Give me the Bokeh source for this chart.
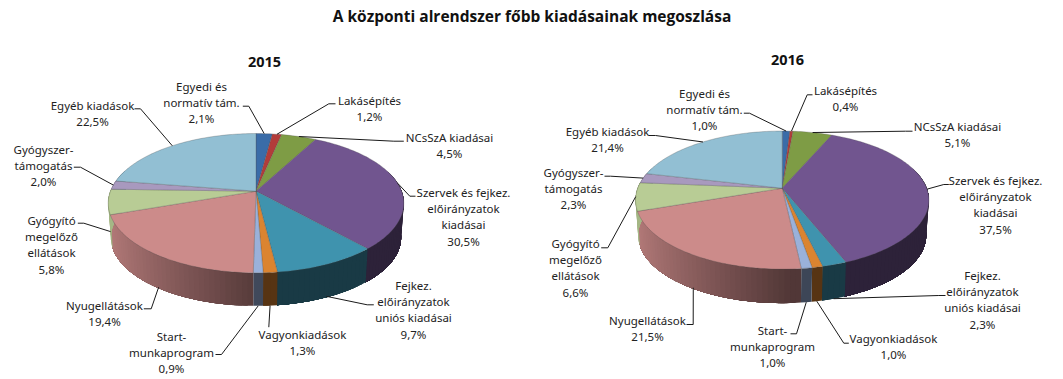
import math
from bokeh.plotting import figure
from bokeh.embed import file_html
from bokeh.resources import INLINE
from bokeh.core.properties import value

TITLE = "A központi alrendszer főbb kiadásainak megoszlása"
LABELS = ["Egyedi és\nnormatív tám.", "Lakásépítés", "NCsSzA kiadásai",
          "Szervek és fejkez.\nelőirányzatok\nkiadásai", "Fejkez.\nelőirányzatok\nuniós kiadásai",
          "Vagyonkiadások", "Start-\nmunkaprogram", "Nyugellátások",
          "Gyógyító\nmegelőző\nellátások", "Gyógyszer-\ntámogatás", "Egyéb kiadások"]
V2015 = [2.1, 1.2, 4.5, 30.5, 9.7, 1.3, 0.9, 19.4, 5.8, 2.0, 22.5]
V2016 = [1.0, 0.4, 5.1, 37.5, 2.3, 1.0, 1.0, 21.5, 6.6, 2.3, 21.4]
COLORS = ["#3A6CA8", "#B23C3A", "#7E9C45", "#71558F", "#3F93AE", "#DB8430",
          "#9AB1DA", "#CC8B8A", "#B8CC95", "#A899BE", "#92BFD3"]

# layout, image pixels
K = 0.172
LINE_H = 16.2
PIES = {
    "2015": dict(cx=255.5, cy=190.7, a=145.6, b=67.6, depth=34.5, year=(264, 61.5)),
    "2016": dict(cx=781.7, cy=187.7, a=144.5, b=67.0, depth=35.5, year=(787, 59)),
}
# label centre (first line y), side fraction of the leader's pie end, leader elbow points
LAYOUT_2015 = [
    (201, 86, 0, [(248.3, 105.7), (242.3, 105.7)]),
    (369, 100, 0, [(328.3, 103.3), (335, 103.3)]),
    (449, 136.7, 0, [(393.3, 140.7), (403.3, 140.7)]),
    (463, 192, 0, [(409.3, 195.7), (415, 195.7)]),
    (413, 285, .97, [(366.7, 304.3), (373.3, 304.3)]),
    (302, 333.7, 1, [(268.3, 326.7)]),
    (171, 336, 1, [(221, 354), (215, 354)]),
    (104, 305, .97, [(150.7, 308.3), (143.3, 308.3)]),
    (51, 220, .87, [(83.3, 222.7), (77.3, 222.7)]),
    (43, 149, 0, [(80, 166.7), (73.3, 166.7)]),
    (92, 105, 0, [(140, 108.3), (134, 108.3)]),
]
LAYOUT_2016 = [
    (704, 93, 0, [(749, 112.7), (743.3, 112.7)]),
    (845, 90, 0, [(806.7, 94.3), (812, 94.3)]),
    (957, 126, 0, [(905, 130.7), (912, 130.7)]),
    (995, 180, 0, [(943.3, 184), (948.3, 184)]),
    (982, 275, 1, [(938.3, 295), (945, 295)]),
    (893, 337.7, 1, [(843.3, 342.7), (848.3, 342.7)]),
    (772, 330, 1, [(796, 333.3), (790, 333.3)]),
    (647, 320, .97, [(692.7, 324), (686, 324)]),
    (575, 243, 0, [(607.3, 247.3), (600.7, 247.3)]),
    (573, 172, 0, [(610, 175.7), (604, 175.7)]),
    (607, 131, 0, [(655, 135), (648.3, 135)]),
]
FONT = "Noto Sans"
LABEL_PX = "11.5px"
TEXT_COLOR = "#222222"


def hex2rgb(c):
    return tuple(int(c[i:i + 2], 16) for i in (1, 3, 5))


def shaded(c, f):
    return "#%02x%02x%02x" % tuple(int(min(255, x * f)) for x in hex2rgb(c))


def project(g, pct, r=1.0, side=0.0):
    """Percent clockwise from 12 o'clock to image pixels, with perspective."""
    t = 2 * math.pi * pct / 100
    u, v = r * math.sin(t), r * math.cos(t)
    w = 1 + K * v
    s = 1 - 0.018 * side
    return (g["cx"] + s * g["a"] * u / w, g["cy"] - s * g["b"] * v / w + side * g["depth"])


def side_shade(u):
    return 0.40 + 0.50 * max(0.0, min(1.0, (-u + 0.05) / 1.05))


p = figure(width=1063, height=379, x_range=(0, 1063), y_range=(379, 0), output_backend="svg",
           toolbar_location=None, min_border=0)
p.axis.visible = False
p.grid.visible = False
p.outline_line_color = None
p.background_fill_color = "#ffffff"
p.border_fill_color = "#ffffff"

p.text([531.5], [15], text=[TITLE], text_font=value("Open Sans"), text_font_style="bold",
       text_font_size="15.5px", text_align="center", text_baseline="middle", text_color="#111111")


def draw_pie(year, values, layout):
    g = PIES[year]
    p.text([g["year"][0]], [g["year"][1]], text=[year], text_font=value(FONT), text_font_style="bold",
           text_font_size="14.5px", text_align="center", text_baseline="middle", text_color="#111111")
    edges = [0.0]
    for val in values:
        edges.append(edges[-1] + val)
    scale = 100.0 / edges[-1]
    edges = [e * scale for e in edges]

    # side wall: each band runs to the slice's end and is overpainted by the next, so no seams
    xs, ys, cols = [], [], []
    for i, col in enumerate(COLORS):
        s0, s1 = max(edges[i], 20.0), min(edges[i + 1], 80.0)
        if s1 <= s0:
            continue
        n = max(1, int((s1 - s0) * 2))
        for j in range(n):
            q0 = s0 + (s1 - s0) * j / n
            mid = q0 + (s1 - s0) / (2 * n)
            steps = max(2, int((s1 - q0) * 3))
            arc = [q0 + (s1 - q0) * m / steps for m in range(steps + 1)]
            top = [project(g, q) for q in arc]
            bot = [project(g, q, side=1) for q in reversed(arc)]
            pts = top + bot
            xs.append([c[0] for c in pts])
            ys.append([c[1] for c in pts])
            cols.append(shaded(col, side_shade(math.sin(2 * math.pi * mid / 100))))
    p.patches(xs, ys, fill_color=cols, line_color=None)

    # top slices
    sx, sy = [], []
    for i in range(len(values)):
        n = max(2, int((edges[i + 1] - edges[i]) * 3))
        arc = [project(g, edges[i] + (edges[i + 1] - edges[i]) * j / n) for j in range(n + 1)]
        sx.append([g["cx"]] + [c[0] for c in arc])
        sy.append([g["cy"]] + [c[1] for c in arc])
    p.patches(sx, sy, fill_color=COLORS, line_color="#4a4a4a", line_width=0.5, line_alpha=0.55)

    # leaders and labels
    lx, ly, tx, ty, tt = [], [], [], [], []
    for i, lab in enumerate(LABELS):
        cx, y0, sd, elbows = layout[i]
        mid = (edges[i] + edges[i + 1]) / 2
        end = project(g, mid, side=sd)
        pts = [end] + elbows
        lx.append([c[0] for c in pts])
        ly.append([c[1] for c in pts])
        lines = lab.split("\n") + ["%.1f%%" % values[i]]
        lines[-1] = lines[-1].replace(".", ",")
        for k, line in enumerate(lines):
            tx.append(cx)
            ty.append(y0 + k * LINE_H)
            tt.append(line)
    p.multi_line(lx, ly, line_color="#1a1a1a", line_width=1)
    p.text(tx, ty, text=tt, text_font=value(FONT), text_font_size=LABEL_PX, text_align="center",
           text_baseline="middle", text_color=TEXT_COLOR)


draw_pie("2015", V2015, LAYOUT_2015)
draw_pie("2016", V2016, LAYOUT_2016)

open("out.html", "w").write(file_html(p, INLINE))
